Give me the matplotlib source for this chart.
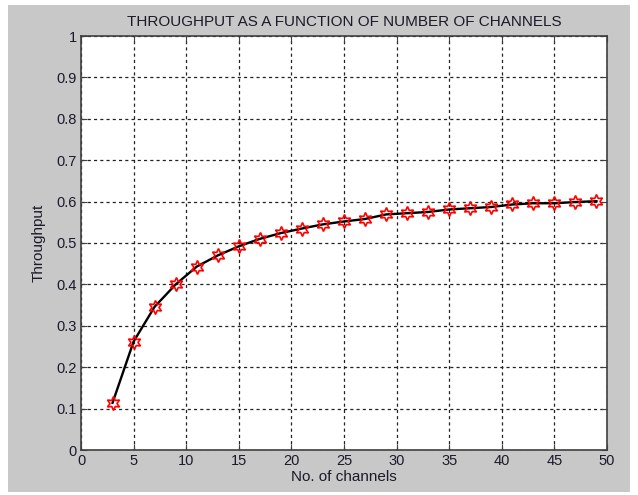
import matplotlib
matplotlib.use("Agg")
import matplotlib.pyplot as plt
from matplotlib.patches import Rectangle

plt.rcParams["font.family"] = ["Liberation Sans", "DejaVu Sans"]

# ── data ────────────────────────────────────────────────────────────────────
channels = [3, 5, 7, 9, 11, 13, 15, 17, 19, 21, 23, 25,
            27, 29, 31, 33, 35, 37, 39, 41, 43, 45, 47, 49]
throughput = [0.114, 0.262, 0.346, 0.400, 0.443, 0.470, 0.492, 0.510,
              0.524, 0.535, 0.545, 0.552, 0.558, 0.569, 0.572, 0.575,
              0.581, 0.584, 0.587, 0.593, 0.596, 0.596, 0.599, 0.601]
x_ticks = list(range(0, 51, 5))
y_ticks = [i / 10 for i in range(11)]
y_tick_labels = ["0"] + [f"{v:.1f}" for v in y_ticks[1:-1]] + ["1"]

fig = plt.figure(figsize=(6.38, 4.95), dpi=100, facecolor="white")
# grey MATLAB-style panel inside a thin white border
fig.patches.append(Rectangle((8 / 638, 3 / 495), 622 / 638, 487 / 495,
                             transform=fig.transFigure, facecolor="#c8c8c8",
                             edgecolor="none", zorder=-1))

ax = fig.add_axes([81 / 638, 45 / 495, 526 / 638, 414 / 495])
ax.set_facecolor("white")

ax.plot(channels, throughput, color="black", lw=1.7, zorder=3)
ax.plot(channels, throughput, ls="none", marker=(6, 1, 0), ms=10,
        mfc="none", mec="red", mew=1.2, zorder=4)

ax.set_xlim(0, 50)
ax.set_ylim(0, 1)
ax.set_xticks(x_ticks)
ax.set_yticks(y_ticks)
ax.set_yticklabels(y_tick_labels)
ax.grid(True, color="#222222", ls=(0, (2.5, 2.5)), lw=0.9)
ax.tick_params(direction="in", length=4, width=0.8, top=True, right=True,
               labelsize=10.5, colors="#404040", labelcolor="#1a1a2a", pad=3)
for sp in ax.spines.values():
    sp.set_color("#404040")
    sp.set_linewidth(1.2)

ax.set_title("THROUGHPUT AS A FUNCTION OF NUMBER OF CHANNELS",
             fontsize=11, color="#1a1a2a", pad=7)
ax.set_xlabel("No. of channels", fontsize=11, color="#1a1a2a", labelpad=1)
ax.set_ylabel("Throughput", fontsize=11, color="#1a1a2a", labelpad=8)

fig.savefig("out.png", dpi=100, facecolor=fig.get_facecolor())
